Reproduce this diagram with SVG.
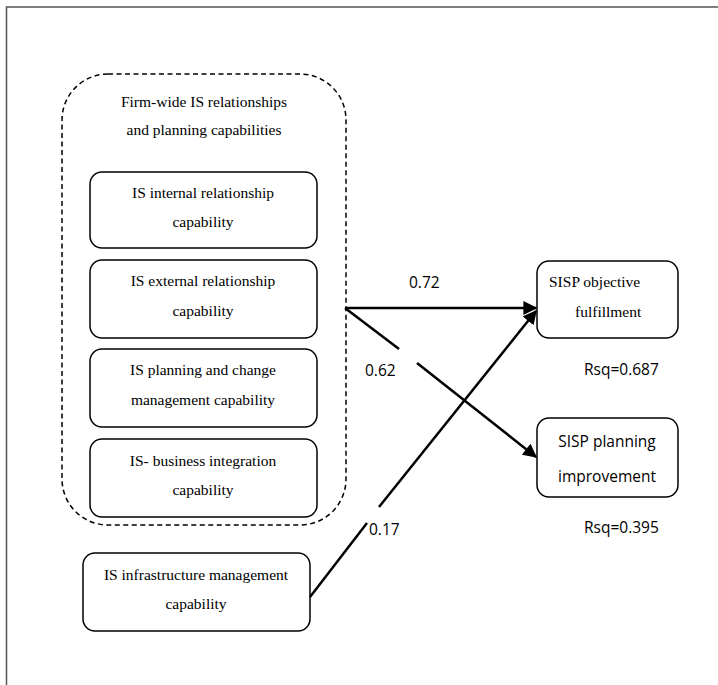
<svg xmlns="http://www.w3.org/2000/svg" width="718" height="685" viewBox="0 0 718 685">
<style>
.box{fill:#fff;stroke:#000;stroke-width:1.5}
.ser{font-family:"Liberation Serif","Times New Roman",serif;font-size:15.5px;fill:#000;text-anchor:middle}
.sans{font-family:"Open Sans","Liberation Sans",sans-serif;font-size:15.5px;fill:#000}
.conn{stroke:#000;stroke-width:2.5;fill:none}
</style>
<defs>
<marker id="ahb" viewBox="0 0 10 10" refX="9" refY="5" markerWidth="14" markerHeight="14" orient="auto" markerUnits="userSpaceOnUse">
<path d="M0,0 L10,5 L0,10 z" fill="#000"/>
</marker>
</defs>
<rect x="0" y="0" width="718" height="685" fill="#fff"/>
<path d="M6.5,685 V7 H718" fill="none" stroke="#555" stroke-width="1.5"/>

<g id="container">
<rect x="62" y="74" width="284" height="451" rx="46" ry="46" fill="none" stroke="#000" stroke-width="1.5" stroke-dasharray="5,3.5"/>
<text class="ser" x="204" y="107">Firm-wide IS relationships</text>
<text class="ser" x="204" y="135">and planning capabilities</text>
</g>

<g id="n-internal">
<rect class="box" x="90" y="172" width="227" height="76" rx="12"/>
<text class="ser" x="203" y="198">IS internal relationship</text>
<text class="ser" x="203" y="227">capability</text>
</g>
<g id="n-external">
<rect class="box" x="90" y="260" width="227" height="78" rx="12"/>
<text class="ser" x="203" y="286">IS external relationship</text>
<text class="ser" x="203" y="316">capability</text>
</g>
<g id="n-planning">
<rect class="box" x="90" y="349" width="227" height="78" rx="12"/>
<text class="ser" x="203" y="375">IS planning and change</text>
<text class="ser" x="203" y="405">management capability</text>
</g>
<g id="n-business">
<rect class="box" x="90" y="439" width="227" height="78" rx="12"/>
<text class="ser" x="203" y="466">IS- business integration</text>
<text class="ser" x="203" y="495">capability</text>
</g>
<g id="n-infra">
<rect class="box" x="83" y="553" width="227" height="78" rx="12"/>
<text class="ser" x="196" y="580">IS infrastructure management</text>
<text class="ser" x="196" y="609">capability</text>
</g>
<g id="n-objective">
<rect class="box" x="537" y="261" width="141" height="77" rx="12"/>
<text class="ser" x="549" y="287" style="text-anchor:start">SISP objective</text>
<text class="ser" x="575" y="317" style="text-anchor:start">fulfillment</text>
</g>
<g id="n-improve">
<rect class="box" x="537" y="418" width="141" height="79" rx="12"/>
<text class="sans" x="607" y="447" text-anchor="middle">SISP planning</text>
<text class="sans" x="607" y="482" text-anchor="middle">improvement</text>
</g>

<g id="connectors">
<line class="conn" x1="345" y1="308" x2="536" y2="308" marker-end="url(#ahb)"/>
<line class="conn" x1="345" y1="308" x2="399" y2="349"/>
<line class="conn" x1="417" y1="363" x2="536" y2="457" marker-end="url(#ahb)"/>
<line class="conn" x1="310" y1="597" x2="367" y2="523"/>
<line class="conn" x1="379" y1="507" x2="536" y2="311" marker-end="url(#ahb)"/>
</g>

<g id="labels">
<text class="sans" x="409" y="288">0.72</text>
<text class="sans" x="365" y="376">0.62</text>
<text class="sans" x="369" y="535">0.17</text>
<text class="sans" x="584" y="375">Rsq=0.687</text>
<text class="sans" x="584" y="533">Rsq=0.395</text>
</g>
</svg>
